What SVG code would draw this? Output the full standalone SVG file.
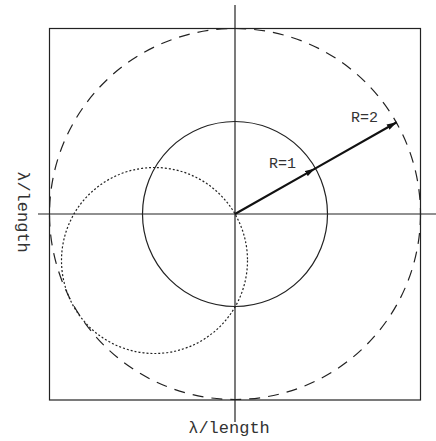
<svg xmlns="http://www.w3.org/2000/svg" width="436" height="441" viewBox="0 0 436 441">
<defs>
<style>
.ln{fill:none;stroke:#222;stroke-width:1.2}
.lbl{font-family:"Liberation Mono","Courier New",monospace;fill:#333}
</style>
<marker id="ah" markerUnits="userSpaceOnUse" markerWidth="11" markerHeight="7" refX="10" refY="3.5" orient="auto">
<path d="M0,0.5 L10,3.5 L0,6.5 z" fill="#111"/>
</marker>
</defs>
<rect width="436" height="441" fill="#fff"/>
<g id="frame">
<rect class="ln" x="49.5" y="28.5" width="371" height="371.5"/>
</g>
<g id="axes">
<line class="ln" x1="235" y1="5" x2="235" y2="422"/>
<line class="ln" x1="38" y1="214" x2="436" y2="214"/>
</g>
<g id="circle-r2">
<circle class="ln" cx="235" cy="214" r="185.5" stroke-dasharray="11 8"/>
</g>
<g id="circle-r1">
<circle class="ln" cx="235" cy="214" r="92.5"/>
</g>
<g id="circle-dotted">
<circle class="ln" cx="154.5" cy="260.5" r="93" stroke-dasharray="2 2"/>
</g>
<g id="connectors">
<path d="M235,214 L315,168.6 L396.7,122.2" fill="none" stroke="#111" stroke-width="2.2" marker-mid="url(#ah)" marker-end="url(#ah)"/>
</g>
<g id="labels">
<text class="lbl" x="269" y="168" font-size="15">R=1</text>
<text class="lbl" x="351" y="122" font-size="15">R=2</text>
<text class="lbl" x="229" y="433" font-size="17" text-anchor="middle">λ/length</text>
<text class="lbl" transform="translate(18,212) rotate(90)" font-size="17" text-anchor="middle">λ/length</text>
</g>
</svg>
